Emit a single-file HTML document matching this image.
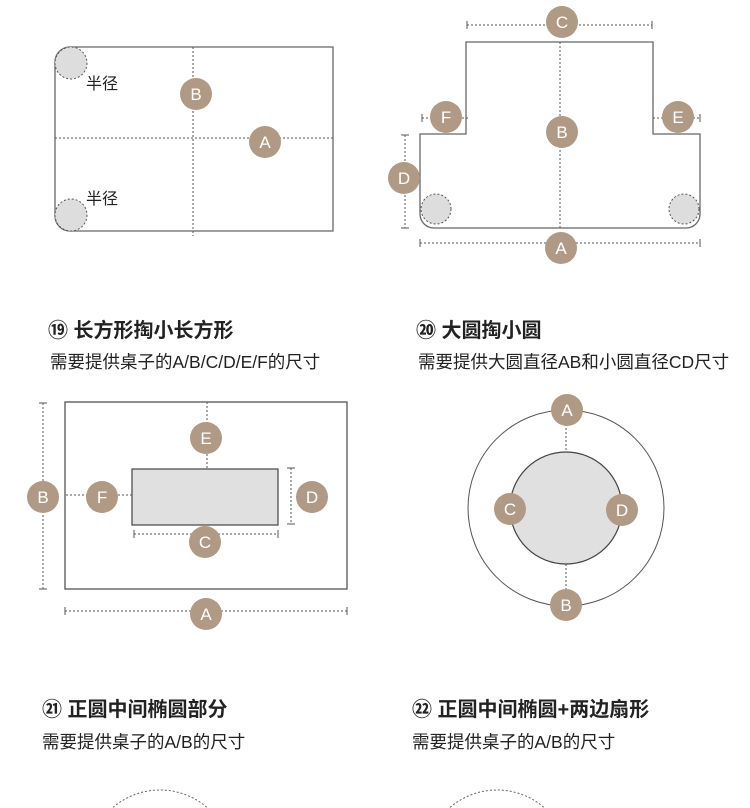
<!DOCTYPE html>
<html><head><meta charset="utf-8"><style>
html,body{margin:0;background:#fff;width:750px;height:808px;overflow:hidden;}
svg{display:block;}
.t{font-family:"Liberation Sans","Noto Sans CJK SC",sans-serif;}
</style></head><body>
<svg width="750" height="808" viewBox="0 0 750 808" xmlns="http://www.w3.org/2000/svg">
<defs>
<g id="b"><circle r="16" fill="#b09a85"/></g>
</defs>
<g fill="none" stroke="#555" stroke-width="1">
<path d="M70 47 H333 V231 H70 A15 15 0 0 1 55 216 V62 A15 15 0 0 1 70 47Z" stroke="#666" stroke-width="1.3"/>
<line x1="193" y1="47" x2="193" y2="236" stroke-dasharray="2 2"/>
<line x1="55" y1="138" x2="333" y2="138" stroke-dasharray="2 2"/>
<circle cx="71" cy="63" r="16" fill="#ddd" stroke-dasharray="2 2"/>
<circle cx="71" cy="215" r="16" fill="#ddd" stroke-dasharray="2 2"/>
<path d="M466 42 H653 V134 H700 V214 A14 14 0 0 1 686 228 H434 A14 14 0 0 1 420 214 V134 H466 Z" stroke="#666" stroke-width="1.3"/>
<line x1="560" y1="42" x2="560" y2="228" stroke-dasharray="2 2"/>
<line x1="467" y1="25" x2="652" y2="25" stroke-dasharray="2 2"/>
<line x1="467" y1="21" x2="467" y2="29"/><line x1="652" y1="21" x2="652" y2="29"/>
<line x1="422" y1="118" x2="468" y2="118" stroke-dasharray="2 2"/>
<line x1="422" y1="114" x2="422" y2="122"/>
<line x1="653" y1="118" x2="700" y2="118" stroke-dasharray="2 2"/>
<line x1="700" y1="114" x2="700" y2="122"/>
<line x1="405" y1="135" x2="405" y2="228" stroke-dasharray="2 2"/>
<line x1="401" y1="135" x2="409" y2="135"/><line x1="401" y1="228" x2="409" y2="228"/>
<line x1="420" y1="243" x2="700" y2="243" stroke-dasharray="2 2"/>
<line x1="420" y1="239" x2="420" y2="247"/><line x1="700" y1="239" x2="700" y2="247"/>
<circle cx="436" cy="209" r="15" fill="#ddd" stroke-dasharray="2 2"/>
<circle cx="684" cy="209" r="15" fill="#ddd" stroke-dasharray="2 2"/>
<rect x="65" y="402" width="282" height="187" stroke="#555" stroke-width="1.3"/>
<rect x="132" y="469" width="146" height="56" fill="#e0e0e0" stroke="#444" stroke-width="1.2"/>
<line x1="43" y1="403" x2="43" y2="589" stroke-dasharray="2 2"/>
<line x1="39" y1="403" x2="47" y2="403"/><line x1="39" y1="589" x2="47" y2="589"/>
<line x1="66" y1="495" x2="132" y2="495" stroke-dasharray="2 2"/>
<line x1="207" y1="402" x2="207" y2="469" stroke-dasharray="2 2"/>
<line x1="291" y1="468" x2="291" y2="524" stroke-dasharray="2 2"/>
<line x1="287" y1="468" x2="295" y2="468"/><line x1="287" y1="524" x2="295" y2="524"/>
<line x1="134" y1="534" x2="278" y2="534" stroke-dasharray="2 2"/>
<line x1="134" y1="530" x2="134" y2="538"/><line x1="278" y1="530" x2="278" y2="538"/>
<line x1="65" y1="611" x2="347" y2="611" stroke-dasharray="2 2"/>
<line x1="65" y1="607" x2="65" y2="615"/><line x1="347" y1="607" x2="347" y2="615"/>
<circle cx="566" cy="508" r="98" stroke="#555"/>
<circle cx="566" cy="508" r="56" fill="#e0e0e0" stroke="#444" stroke-width="1.2"/>
<line x1="566" y1="420" x2="566" y2="452" stroke-dasharray="2 2"/>
<line x1="566" y1="564" x2="566" y2="596" stroke-dasharray="2 2"/>
<circle cx="160" cy="862" r="72" stroke="#666" stroke-dasharray="2 2"/>
<circle cx="497" cy="862" r="72" stroke="#666" stroke-dasharray="2 2"/>
</g>
<g class="t" font-size="17" fill="#fff" text-anchor="middle">
<g transform="translate(196,94)"><use href="#b"/><text y="6">B</text></g>
<g transform="translate(265,142)"><use href="#b"/><text y="6">A</text></g>
<g transform="translate(562,22)"><use href="#b"/><text y="6">C</text></g>
<g transform="translate(562,132)"><use href="#b"/><text y="6">B</text></g>
<g transform="translate(446,117)"><use href="#b"/><text y="6">F</text></g>
<g transform="translate(678,117)"><use href="#b"/><text y="6">E</text></g>
<g transform="translate(404,178)"><use href="#b"/><text y="6">D</text></g>
<g transform="translate(561,248)"><use href="#b"/><text y="6">A</text></g>
<g transform="translate(43,497)"><use href="#b"/><text y="6">B</text></g>
<g transform="translate(102,497)"><use href="#b"/><text y="6">F</text></g>
<g transform="translate(206,438)"><use href="#b"/><text y="6">E</text></g>
<g transform="translate(312,497)"><use href="#b"/><text y="6">D</text></g>
<g transform="translate(205,542)"><use href="#b"/><text y="6">C</text></g>
<g transform="translate(206,614)"><use href="#b"/><text y="6">A</text></g>
<g transform="translate(567,410)"><use href="#b"/><text y="6">A</text></g>
<g transform="translate(566,605)"><use href="#b"/><text y="6">B</text></g>
<g transform="translate(510,509)"><use href="#b"/><text y="6">C</text></g>
<g transform="translate(622,510)"><use href="#b"/><text y="6">D</text></g>
</g>
<g class="t" fill="#222">
<text x="86" y="89" font-size="16">半径</text>
<text x="86" y="204" font-size="16">半径</text>
<text x="48" y="337" font-size="20" font-weight="bold">⑲ 长方形掏小长方形</text>
<text x="50" y="368" font-size="17.5">需要提供桌子的A/B/C/D/E/F的尺寸</text>
<text x="416" y="337" font-size="20" font-weight="bold">⑳ 大圆掏小圆</text>
<text x="418" y="368" font-size="17.5">需要提供大圆直径AB和小圆直径CD尺寸</text>
<text x="42" y="716" font-size="20" font-weight="bold">㉑ 正圆中间椭圆部分</text>
<text x="42" y="748" font-size="17.5">需要提供桌子的A/B的尺寸</text>
<text x="412" y="716" font-size="20" font-weight="bold">㉒ 正圆中间椭圆+两边扇形</text>
<text x="412" y="748" font-size="17.5">需要提供桌子的A/B的尺寸</text>
</g>
</svg>
</body></html>
